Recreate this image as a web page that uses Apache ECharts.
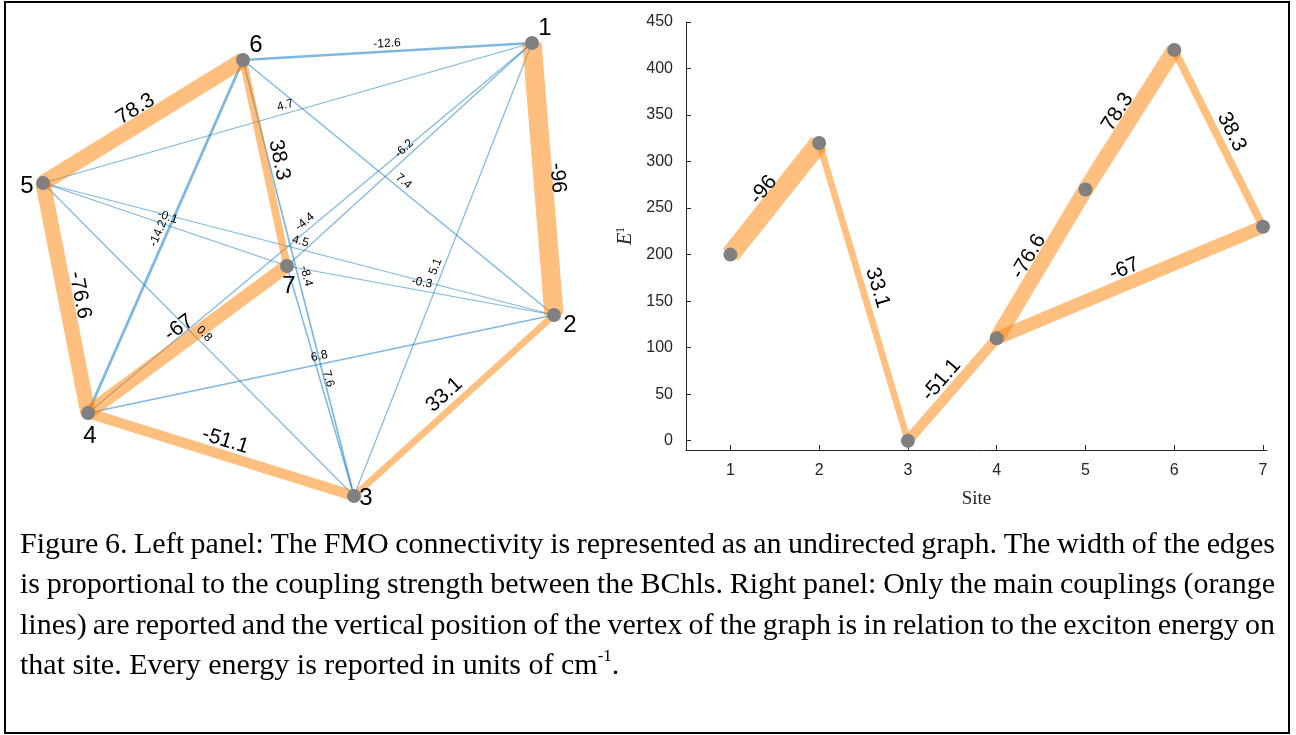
<!DOCTYPE html>
<html>
<head>
<meta charset="utf-8">
<script src="https://cdn.jsdelivr.net/npm/echarts@6/dist/echarts.min.js"></script>
<style>
  html, body { margin: 0; padding: 0; background: #fff; }
  #chart { width: 1296px; height: 735px; }
</style>
</head>
<body>
<div id="chart"></div>
<script>
// FMO sites (BChl pigments) and their exciton energies, cm^-1
const siteNames = ['1', '2', '3', '4', '5', '6', '7'];
const siteEnergies = [200, 320, 0, 110, 270, 420, 230];

// Pairwise couplings between sites, cm^-1 (site numbers, 1-based)
const couplingFrom = [1, 1, 1, 1, 1, 1, 2, 2, 2, 2, 2, 3, 3, 3, 3, 4, 4, 4, 5, 5, 6];
const couplingTo   = [2, 3, 4, 5, 6, 7, 3, 4, 5, 6, 7, 4, 5, 6, 7, 5, 6, 7, 6, 7, 7];
const couplingValues = [-96, 5.1, -4.4, 4.7, -12.6, -6.2,
                        33.1, 6.8, 4.5, 7.4, -0.3,
                        -51.1, 0.8, -8.4, 7.6,
                        -76.6, -14.2, -67,
                        78.3, -0.1,
                        38.3];

// Axis tick labels of the energy plot
const siteTicks = [1, 2, 3, 4, 5, 6, 7];
const energyTicks = [0, 50, 100, 150, 200, 250, 300, 350, 400, 450];

// Caption
const captionLines = [
  'Figure 6. Left panel: The FMO connectivity is represented as an undirected graph. The width of the edges',
  'is proportional to the coupling strength between the BChls. Right panel: Only the main couplings (orange',
  'lines) are reported and the vertical position of the vertex of the graph is in relation to the exciton energy on'
];
const captionLast = 'that site. Every energy is reported in units of cm';
const captionSup = '-1';

// ---- layout & style (not data) ----
// Hand-placed vertex layout of the connectivity graph (layout units)
const graphLayout = [[489, 0], [511, 272], [311, 453], [45, 370], [0, 140], [200, 17], [244, 223]];
const nodeLabelOffset = [[13, -15], [16, 10], [12, 2], [2, 23], [-16, 3], [13, -15], [2, 20]];
const MAIN_THRESHOLD = 30;
const ORANGE = 'rgba(255,128,0,0.5)';
const BLUE = 'rgba(0,114,189,0.5)';
const SANS = 'Liberation Sans';
const SERIF = 'Liberation Serif';

function edgeWidth(v) { return Math.max(Math.abs(v) / 5, 1.2); }
function isMain(v) { return Math.abs(v) > MAIN_THRESHOLD; }

// Left panel: full connectivity graph
const leftNodes = siteNames.map((n, i) => ({
  name: n,
  x: graphLayout[i][0],
  y: graphLayout[i][1],
  label: { offset: nodeLabelOffset[i] }
}));

function makeLink(i) {
  const v = couplingValues[i];
  const main = isMain(v);
  return {
    source: couplingFrom[i] - 1,
    target: couplingTo[i] - 1,
    value: v,
    lineStyle: { color: main ? ORANGE : BLUE, width: edgeWidth(v), opacity: 1 },
    label: {
      show: true,
      formatter: String(v),
      fontSize: main ? 21 : 12,
      fontFamily: SANS,
      color: '#000',
      opacity: 1,
      distance: main ? 4 : 2
    }
  };
}

const leftLinks = [];
// minor couplings first so the main ones are drawn on top
couplingValues.forEach((v, i) => { if (!isMain(v)) leftLinks.push(makeLink(i)); });
couplingValues.forEach((v, i) => { if (isMain(v)) leftLinks.push(makeLink(i)); });

// Right panel: main couplings placed by site energy
const rightNodes = siteNames.map((n, i) => ({ name: n, value: [siteTicks[i], siteEnergies[i]] }));
const rightLinks = [];
couplingValues.forEach((v, i) => { if (isMain(v)) rightLinks.push(makeLink(i)); });

// Caption, justified word by word
const CAP_SIZE = 30;
const CAP_FONT = CAP_SIZE + 'px "' + SERIF + '"';
const CAP_LEFT = 20, CAP_RIGHT = 1275, CAP_Y0 = 545, CAP_LEAD = 40.5;
const measureCtx = document.createElement('canvas').getContext('2d');
function textWidth(t, font) { measureCtx.font = font; return measureCtx.measureText(t).width; }

const captionGraphics = [];
captionLines.forEach((line, li) => {
  const words = line.split(' ');
  const widths = words.map(w => textWidth(w, CAP_FONT));
  const total = widths.reduce((a, b) => a + b, 0);
  const gap = (CAP_RIGHT - CAP_LEFT - total) / (words.length - 1);
  let x = CAP_LEFT;
  words.forEach((w, wi) => {
    captionGraphics.push({
      type: 'text', x: x, y: CAP_Y0 + li * CAP_LEAD,
      style: { text: w, font: CAP_FONT, fill: '#000', textVerticalAlign: 'middle' }
    });
    x += widths[wi] + gap;
  });
});
{
  const y = CAP_Y0 + captionLines.length * CAP_LEAD;
  const w1 = textWidth(captionLast, CAP_FONT);
  const supFont = '17px "' + SERIF + '"';
  const w2 = textWidth(captionSup, supFont);
  captionGraphics.push({ type: 'text', x: CAP_LEFT, y: y,
    style: { text: captionLast, font: CAP_FONT, fill: '#000', textVerticalAlign: 'middle' } });
  captionGraphics.push({ type: 'text', x: CAP_LEFT + w1, y: y - 10,
    style: { text: captionSup, font: supFont, fill: '#000', textVerticalAlign: 'middle' } });
  captionGraphics.push({ type: 'text', x: CAP_LEFT + w1 + w2, y: y,
    style: { text: '.', font: CAP_FONT, fill: '#000', textVerticalAlign: 'middle' } });
}

const chart = echarts.init(document.getElementById('chart'), null, { renderer: 'canvas' });

const axisColor = '#262626';
chart.setOption({
  animation: false,
  backgroundColor: '#fff',
  grid: { left: 686, top: 22, width: 581, height: 428 },
  xAxis: {
    type: 'value', min: 0.5, max: 7.045,
    axisLine: { show: true, onZero: false, lineStyle: { color: axisColor, width: 1 } },
    axisTick: { show: true, inside: true, length: 5, customValues: siteTicks, lineStyle: { color: axisColor } },
    axisLabel: { customValues: siteTicks, fontSize: 16, fontFamily: SANS, color: axisColor, margin: 13 },
    splitLine: { show: false },
    name: 'Site', nameLocation: 'middle', nameGap: 40,
    nameTextStyle: { fontFamily: SERIF, fontSize: 19, color: axisColor }
  },
  yAxis: {
    type: 'value', min: -10, max: 450,
    axisLine: { show: true, onZero: false, lineStyle: { color: axisColor, width: 1 } },
    axisTick: { show: true, inside: true, length: 5, customValues: energyTicks, lineStyle: { color: axisColor } },
    axisLabel: { customValues: energyTicks, fontSize: 16, fontFamily: SANS, color: axisColor, margin: 13 },
    splitLine: { show: false },
    name: '{e|E}{s|1}', nameLocation: 'middle', nameGap: 50, nameRotate: 90,
    nameTextStyle: {
      color: axisColor,
      rich: {
        e: { fontFamily: SERIF, fontStyle: 'italic', fontSize: 20, color: axisColor },
        s: { fontFamily: SERIF, fontSize: 12, color: axisColor, padding: [0, 0, 9, 0] }
      }
    }
  },
  series: [
    {
      type: 'graph',
      layout: 'none',
      left: 43, top: 43, width: 511, height: 453,
      roam: false,
      silent: true,
      symbol: 'circle',
      symbolSize: 14,
      itemStyle: { color: '#808080' },
      label: { show: true, position: 'inside', fontSize: 24, fontFamily: SANS, color: '#000' },
      edgeLabel: { show: true, opacity: 1, color: '#000' },
      lineStyle: { curveness: 0, opacity: 1 },
      emphasis: { disabled: true },
      data: leftNodes,
      links: leftLinks,
      z: 2
    },
    {
      type: 'graph',
      coordinateSystem: 'cartesian2d',
      xAxisIndex: 0, yAxisIndex: 0,
      silent: true,
      symbol: 'circle',
      symbolSize: 14,
      itemStyle: { color: '#808080' },
      label: { show: false },
      edgeLabel: { show: true, opacity: 1, color: '#000' },
      lineStyle: { curveness: 0, opacity: 1 },
      emphasis: { disabled: true },
      data: rightNodes,
      links: rightLinks,
      z: 2
    }
  ],
  graphic: [
    { type: 'rect', shape: { x: 5, y: 2, width: 1284, height: 731 },
      style: { fill: 'none', stroke: '#000', lineWidth: 2 }, z: 10 }
  ].concat(captionGraphics)
});
</script>
</body>
</html>
